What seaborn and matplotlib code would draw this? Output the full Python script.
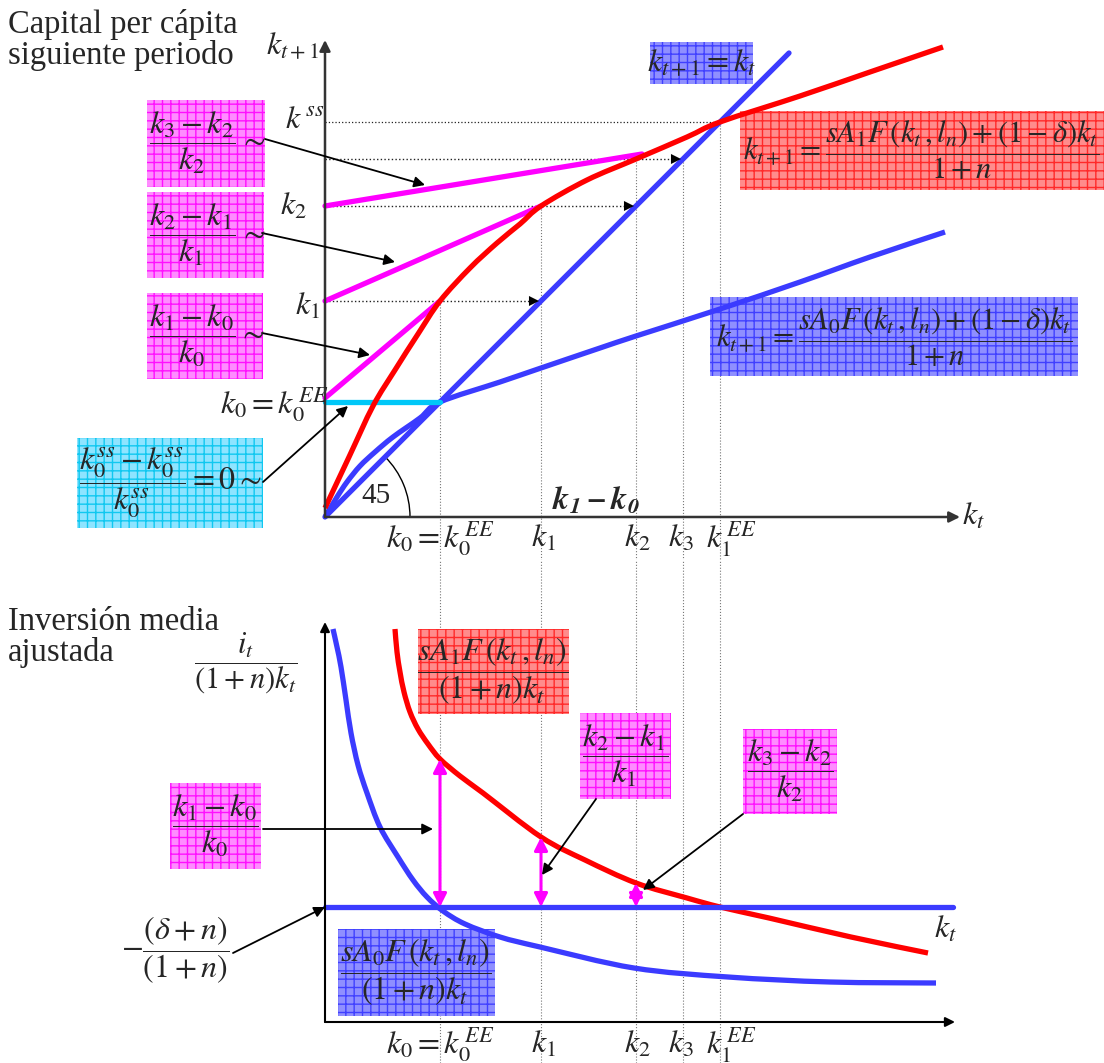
import numpy as np
import matplotlib
matplotlib.use("Agg")
import matplotlib.pyplot as plt
from matplotlib.patches import Rectangle, Arc, PathPatch
from matplotlib.path import Path
import seaborn as sns

sns.set_theme(style="white")
plt.rcParams["font.family"] = ["Liberation Serif", "DejaVu Serif"]
plt.rcParams["mathtext.fontset"] = "stix"
plt.rcParams["hatch.linewidth"] = 1.0

# capital stock along the transition
k0, k1, k2, k3, k_ee = 1.15, 2.16, 3.11, 3.58, 3.95

# upper panel: law of motion k_{t+1}(k_t)
diag_k = [0.0, 4.64]
red_k = [0.00, 0.24, 0.48, 0.70, 0.93, 1.15, 1.45, 1.72, 1.95, 2.16, 2.62, 3.11, 3.62, 3.95, 4.75, 5.45, 6.18]
red_next = [0.09, 0.60, 1.11, 1.47, 1.83, 2.16, 2.49, 2.74, 2.93, 3.11, 3.37, 3.58, 3.80, 3.95, 4.21, 4.45, 4.70]
blue_k = [0.00, 0.12, 0.22, 0.35, 0.50, 0.68, 0.95, 1.15, 1.75, 2.16, 2.75, 3.11, 3.95, 4.75, 5.45, 6.20]
blue_next = [0.00, 0.20, 0.35, 0.51, 0.65, 0.80, 0.99, 1.15, 1.35, 1.49, 1.69, 1.81, 2.08, 2.35, 2.60, 2.85]
# chords from the vertical axis to the red curve
chord_x = [[0.0, 1.15], [0.0, 2.16], [0.0, 3.17]]
chord_y = [[1.19, 2.16], [2.16, 3.11], [3.11, 3.63]]

# lower panel: adjusted mean investment
inv_red_k = [0.70, 0.72, 0.75, 0.79, 0.85, 0.93, 1.03, 1.15, 1.35, 1.58, 2.16, 2.60, 3.11, 3.62, 3.95, 4.44, 5.26, 6.03]
inv_red = [3.93, 3.70, 3.50, 3.30, 3.10, 2.93, 2.78, 2.63, 2.46, 2.29, 1.85, 1.62, 1.39, 1.24, 1.15, 1.04, 0.85, 0.69]
inv_blue_k = [0.08, 0.12, 0.16, 0.21, 0.26, 0.33, 0.42, 0.55, 0.73, 0.88, 1.02, 1.18, 1.40, 1.75, 2.15, 3.09, 4.03, 5.05, 6.11]
inv_blue = [3.93, 3.75, 3.55, 3.22, 2.89, 2.57, 2.29, 1.95, 1.65, 1.42, 1.25, 1.11, 0.98, 0.85, 0.75, 0.54, 0.45, 0.40, 0.39]
depr_level = 1.15
growth_k = [k0, k1, k2]
growth_top = [2.63, 1.85, 1.39]

RED, BLUE, MAG, CYAN = "#ff0000", "#3b3bff", "#ff00ff", "#00c8f8"
BOX = {
    "mag": ("#ff8cff", "#ff10ff"),
    "red": ("#ff8c8c", "#ff2a2a"),
    "blue": ("#8f8fff", "#4040ff"),
    "cyan": ("#8ee4ff", "#10c8f0"),
}
FS = 23
LW = 3.8

fig = plt.figure(figsize=(11.04, 10.63), dpi=100)
top = fig.add_axes([0, 1 - 560 / 1063, 1, 560 / 1063])
bot = fig.add_axes([0, 0, 1, 503 / 1063])
top.set_xlim(-3.25, 7.79)
top.set_ylim(-0.43, 5.17)
bot.set_xlim(-3.25, 7.79)
bot.set_ylim(-0.41, 4.62)
for ax in (top, bot):
    ax.set_axis_off()


def curve(ax, xs, ys, color, z=3):
    """Smooth Catmull-Rom (cubic Bezier) stroke through the given points."""
    pts = np.column_stack([xs, ys]).astype(float)
    verts, codes = [pts[0]], [Path.MOVETO]
    n = len(pts)
    for i in range(n - 1):
        p0 = pts[i - 1] if i > 0 else pts[i]
        p1, p2 = pts[i], pts[i + 1]
        p3 = pts[i + 2] if i + 2 < n else pts[i + 1]
        verts += [p1 + (p2 - p0) / 6, p2 - (p3 - p1) / 6, p2]
        codes += [Path.CURVE4] * 3
    ax.add_patch(PathPatch(Path(verts, codes), facecolor="none", edgecolor=color,
                           lw=LW, capstyle="butt", zorder=z))


def line(ax, xs, ys, color, z=3):
    sns.lineplot(x=xs, y=ys, ax=ax, color=color, lw=LW, sort=False,
                 estimator=None, zorder=z)


def box(ax, x0, x1, y0, y1, kind):
    face, grid = BOX[kind]
    ax.add_patch(Rectangle((x0, y0), x1 - x0, y1 - y0, facecolor=face,
                           edgecolor=grid, hatch="++", lw=0, zorder=2))


def arrow(ax, start, end, lw=1.3, color="black", style="-|>", ms=16, z=5):
    ax.annotate("", xy=end, xytext=start,
                arrowprops=dict(arrowstyle=style, color=color, lw=lw,
                                mutation_scale=ms, shrinkA=0, shrinkB=0),
                zorder=z, annotation_clip=False)


def label(ax, x, y, s, size=FS, ha="center", va="center", **kw):
    ax.text(x, y, s, fontsize=size, ha=ha, va=va, zorder=6, **kw)


# ---------------- upper panel ----------------
# guide lines
for kx, ky in [(k0, k1), (k1, k2), (k2, k3), (k3, k3), (k_ee, k_ee)]:
    top.plot([kx, kx], [ky, -0.43], color="#777777", lw=0.8, ls=":", zorder=1)
for lvl in (k1, k2, k3):
    top.plot([0, lvl - 0.05], [lvl, lvl], color="#222222", lw=1.0, ls=":", zorder=1)
    arrow(top, (lvl - 0.12, lvl), (lvl - 0.02, lvl), lw=0.01, ms=18)
top.plot([0, k_ee], [k_ee, k_ee], color="#222222", lw=0.9, ls=":", zorder=1)

# curves
line(top, diag_k, diag_k, BLUE)
curve(top, blue_k, blue_next, BLUE)
curve(top, red_k, red_next, RED, z=4)
for cx, cy in zip(chord_x, chord_y):
    line(top, cx, cy, MAG)
line(top, [0, k0], [k0, k0], CYAN)

# axes
arrow(top, (0, 0), (0, 4.77), lw=1.8, color="#333333", ms=16)
arrow(top, (0, 0), (6.35, 0), lw=1.8, color="#333333", ms=16)
top.add_patch(Arc((0, 0), 1.7, 1.7, theta1=0, theta2=45, color="black", lw=1.0))
label(top, 0.51, 0.21, "45", size=21)
label(top, 2.71, 0.16, r"$\mathbfit{k_1-k_0}$", size=FS)

fig.text(8 / 1104, 1 - 9 / 1063, "Capital per cápita\nsiguiente periodo",
         fontsize=23.5, ha="left", va="top", linespacing=0.98)

label(top, -0.33, 4.71, r"$k_{t+1}$")
label(top, -0.20, 3.97, r"$k^{\,ss}$")
label(top, -0.32, 3.10, r"$k_2$")
label(top, -0.18, 2.10, r"$k_1$")
label(top, 0.03, 1.12, r"$k_0=k_0^{\,EE}$", ha="right")
label(top, 6.48, 0.0, r"$k_t$")
for xv, s in [(1.15, r"$k_0=k_0^{\,EE}$"), (2.18, r"$k_1$"), (3.12, r"$k_2$"),
              (3.56, r"$k_3$"), (4.06, r"$k_1^{\,EE}$")]:
    label(top, xv, -0.22, s)

# growth-rate boxes
box(top, -1.78, -0.60, 3.30, 4.17, "mag")
label(top, -1.33, 3.74, r"$\dfrac{k_3-k_2}{k_2}$")
label(top, -0.72, 3.76, r"$\sim$")
arrow(top, (-0.60, 3.78), (1.00, 3.32))

box(top, -1.78, -0.61, 2.39, 3.25, "mag")
label(top, -1.33, 2.82, r"$\dfrac{k_2-k_1}{k_1}$")
label(top, -0.72, 2.83, r"$\sim$")
arrow(top, (-0.63, 2.84), (0.70, 2.55))

box(top, -1.78, -0.62, 1.38, 2.24, "mag")
label(top, -1.33, 1.81, r"$\dfrac{k_1-k_0}{k_0}$")
label(top, -0.73, 1.83, r"$\sim$")
arrow(top, (-0.63, 1.84), (0.45, 1.62))

box(top, -2.48, -0.62, -0.11, 0.79, "cyan")
label(top, -1.55, 0.34, r"$\dfrac{k_0^{ss}-k_0^{ss}}{k_0^{ss}}=0\sim$", size=FS)
arrow(top, (-0.62, 0.35), (0.23, 1.11))

box(top, 3.25, 4.28, 4.33, 4.75, "blue")
label(top, 3.76, 4.54, r"$k_{t+1}=k_t$")

box(top, 4.15, 7.79, 3.27, 4.06, "red")
label(top, 5.96, 3.67, r"$k_{t+1}=\dfrac{sA_1F\,(k_t\,,l_n)+(1-\delta)k_t}{1+n}$", size=22)

box(top, 3.85, 7.53, 1.41, 2.20, "blue")
label(top, 5.69, 1.80, r"$k_{t+1}=\dfrac{sA_0F\,(k_t\,,l_n)+(1-\delta)k_t}{1+n}$", size=22)

# ---------------- lower panel ----------------
for kx in (k0, k1, k2, k3, k_ee):
    bot.plot([kx, kx], [-0.41, 4.62], color="#777777", lw=0.8, ls=":", zorder=1)

curve(bot, inv_blue_k, inv_blue, BLUE)
curve(bot, inv_red_k, inv_red, RED)
line(bot, [0, 6.28], [depr_level, depr_level], BLUE)
for gx, gy in zip(growth_k, growth_top):
    arrow(bot, (gx, depr_level), (gx, gy), lw=2.2, color=MAG, style="<|-|>", ms=20, z=4)

arrow(bot, (0, 0), (0, 4.0), lw=1.5, color="black", ms=14)
arrow(bot, (0, 0), (6.30, 0), lw=1.5, color="black", ms=14)

fig.text(8 / 1104, 1 - 607 / 1063, "Inversión media\najustada",
         fontsize=23.5, ha="left", va="top", linespacing=0.98)
label(bot, -0.79, 3.59, r"$\dfrac{i_t}{(1+n)k_t}$", size=22)
label(bot, 6.20, 0.92, r"$k_t$")
label(bot, -1.50, 0.72, r"$-\dfrac{(\delta+n)}{(1+n)}$")
arrow(bot, (-0.92, 0.69), (0.0, depr_level))
for xv, s in [(1.15, r"$k_0=k_0^{\,EE}$"), (2.18, r"$k_1$"), (3.12, r"$k_2$"),
              (3.56, r"$k_3$"), (4.06, r"$k_1^{\,EE}$")]:
    label(bot, xv, -0.23, s)

box(bot, 0.93, 2.44, 3.08, 3.93, "red")
label(bot, 1.68, 3.51, r"$\dfrac{sA_1F\,(k_t\,,l_n)}{(1+n)k_t}$")

box(bot, 0.13, 1.70, 0.06, 0.93, "blue")
label(bot, 0.91, 0.50, r"$\dfrac{sA_0F\,(k_t\,,l_n)}{(1+n)k_t}$")

box(bot, -1.55, -0.64, 1.53, 2.39, "mag")
label(bot, -1.10, 1.96, r"$\dfrac{k_1-k_0}{k_0}$")
arrow(bot, (-0.62, 1.93), (1.08, 1.93))

box(bot, 2.55, 3.46, 2.23, 3.09, "mag")
label(bot, 3.00, 2.66, r"$\dfrac{k_2-k_1}{k_1}$")
arrow(bot, (2.71, 2.23), (2.17, 1.47))

box(bot, 4.18, 5.12, 2.08, 2.93, "mag")
label(bot, 4.65, 2.51, r"$\dfrac{k_3-k_2}{k_2}$")
arrow(bot, (4.18, 2.08), (3.18, 1.32))

fig.savefig("out.png", dpi=100)
